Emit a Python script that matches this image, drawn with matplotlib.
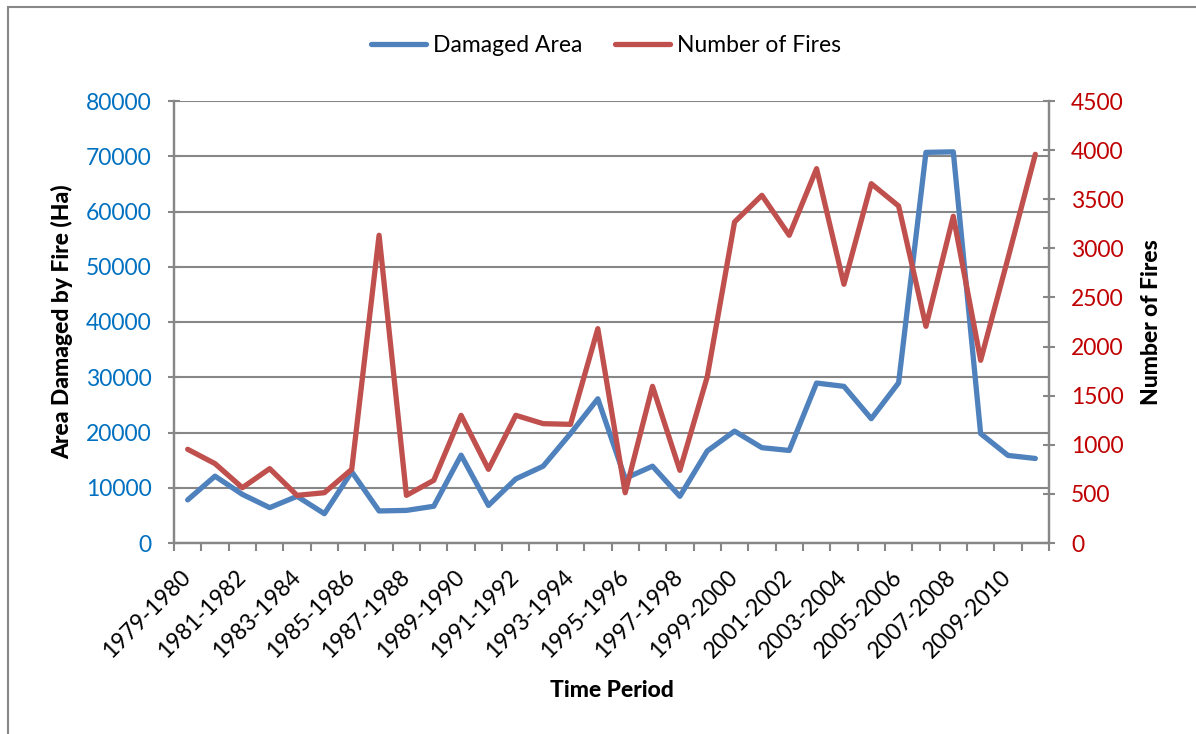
import matplotlib
matplotlib.use("Agg")
import matplotlib.pyplot as plt
from matplotlib.patches import Rectangle
from matplotlib.ticker import FixedLocator, MultipleLocator

plt.rcParams['font.family'] = ['Lato', 'DejaVu Sans']

periods = [f"{y}-{y+1}" for y in range(1979, 2011)]
damaged_area = [7800, 12100, 8800, 6400, 8450, 5300, 12900, 5800, 5900, 6650,
                15900, 6800, 11600, 13900, 19800, 26100, 11700, 13900, 8450, 16650,
                20250, 17250, 16750, 28950, 28350, 22500, 29000, 70700, 70800, 19800,
                15850, 15300]
num_fires = [954, 808, 563, 757, 485, 512, 750, 3133, 485, 638,
             1300, 750, 1300, 1215, 1208, 2182, 512, 1595, 740, 1690,
             3268, 3540, 3133, 3811, 2634, 3658, 3431, 2206, 3326, 1860,
             2900, 3957]

blue = '#4F81BD'
red = '#C0504D'
blue_txt = '#0070C0'
red_txt = '#C00000'
grid_c = '#878787'

fig = plt.figure(figsize=(11.96, 7.34), dpi=100)
ax = fig.add_axes([174/1196, 1-543/734, (1049-174)/1196, (543-101)/734])
ax2 = ax.twinx()

x = list(range(len(periods)))
l1, = ax.plot(x, damaged_area, color=blue, lw=3.8, solid_joinstyle='round',
              solid_capstyle='round', label='Damaged Area', zorder=3)
l2, = ax2.plot(x, num_fires, color=red, lw=3.8, solid_joinstyle='round',
               solid_capstyle='round', label='Number of Fires', zorder=3)

ax.set_xlim(-0.5, len(periods) - 0.5)
ax.set_ylim(0, 80000)
ax2.set_ylim(0, 4500)
ax.yaxis.set_major_locator(MultipleLocator(10000))
ax2.yaxis.set_major_locator(MultipleLocator(500))

ax.grid(axis='y', color=grid_c, lw=1.5, zorder=0)
ax.set_axisbelow(True)

for a in (ax, ax2):
    for s in a.spines.values():
        s.set_color(grid_c)
        s.set_linewidth(1.6)
    a.spines['top'].set_visible(False)

# category ticks
ax.set_xticks(x[::2])
ax.set_xticklabels(periods[::2], rotation=45, ha='right', va='center',
                   rotation_mode='anchor', fontsize=16.5)
ax.tick_params(axis='x', which='major', length=0, pad=22)
ax.xaxis.set_minor_locator(FixedLocator([i - 0.5 for i in range(len(periods) + 1)]))
ax.tick_params(axis='x', which='minor', length=6, width=1.5, color=grid_c, direction='out')

ax.tick_params(axis='y', length=8, width=1.5, color=grid_c, direction='inout',
               labelsize=16.5, labelcolor=blue_txt, pad=12)
ax2.tick_params(axis='y', length=8, width=1.5, color=grid_c, direction='inout',
                labelsize=16.5, labelcolor=red_txt, pad=12)

title_kw = dict(fontsize=16.5, fontweight='black')
ax.set_ylabel('Area Damaged by Fire (Ha)', labelpad=9, **title_kw)
ax2.set_ylabel('Number of Fires', labelpad=12, **title_kw)
ax.set_xlabel('Time Period', labelpad=13, **title_kw)

fig.legend(handles=[l1, l2], loc='center', bbox_to_anchor=(606/1196, 1-46/734),
           ncol=2, frameon=False, fontsize=16.5, handlelength=2.4, handletextpad=0.3,
           columnspacing=1.4)

fig.patches.append(Rectangle((8/1196, -0.1), 1.2, 1.1 - 7/734, transform=fig.transFigure,
                             fill=False, edgecolor='#888888', lw=1.5))

fig.savefig('out.png', dpi=100)
